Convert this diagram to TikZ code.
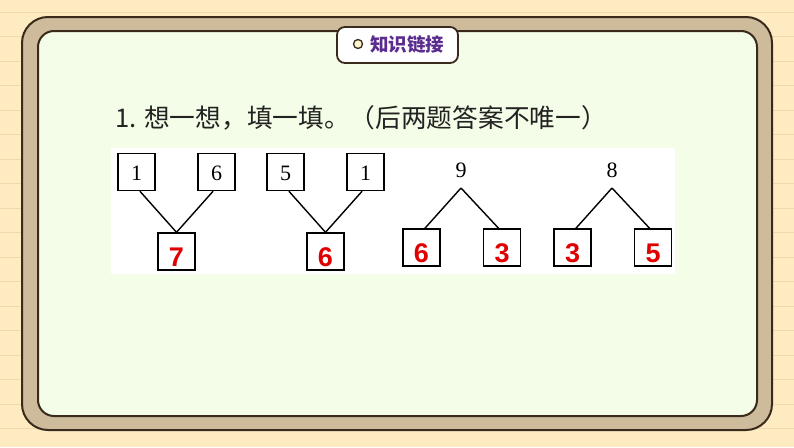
\documentclass[tikz,border=0pt]{standalone}
\usepackage{fontspec}
\newfontfamily\cjk{Noto Sans CJK SC}
\newfontfamily\numserif{Liberation Serif}
\newfontfamily\numsans{Liberation Sans}
\definecolor{paper}{HTML}{FEEBC2}
\definecolor{ruling}{HTML}{EFD9AC}
\definecolor{band}{HTML}{CDBB9B}
\definecolor{board}{HTML}{F4FDE7}
\definecolor{frameline}{HTML}{3A2A1C}
\definecolor{ringfill}{HTML}{FFF6CC}
\definecolor{tabpurple}{HTML}{5B2C8F}
\definecolor{titlegray}{HTML}{222222}
\definecolor{answerred}{HTML}{E00000}

\begin{document}
\begin{tikzpicture}[x=1pt,y=-1pt]
    		\newcommand{\xoff}{0}
    		\newcommand{\rad}{1.4pt} % width of boxes and legs

    		% styles of the number boxes
    		\tikzset{
    			given/.style={
    				draw,
    				line width=\rad,
    				minimum size=37pt,
    				inner sep=0pt,
    				text height=16pt,
    				text depth=0pt,
    				font=\numserif\fontsize{22}{22}\selectfont
    				},
    			answer/.style={
    				given,
    				text=answerred,
    				text height=30pt,
    				font=\numsans\bfseries\fontsize{27}{27}\selectfont
    				},
    			whole/.style={
    				inner xsep=0pt,
    				inner ysep=10pt,
    				text depth=0pt,
    				font=\numserif\fontsize{22}{22}\selectfont
    				},
    			leg/.style={line width=\rad}
    		}

    		% paper and ruling
    		\useasboundingbox (0,0) rectangle (794,447);
    		\fill[paper] (0,0) rectangle (794,447);
    		\foreach \k in {0,...,17}
    			\draw[ruling, line width=0.8pt] (0,12.3+24.5*\k) -- (794,12.3+24.5*\k);

    		% board
    		\filldraw[fill=band, draw=frameline, line width=2pt, rounded corners=26pt] (22,17) rectangle (772,430);
    		\filldraw[fill=board, draw=frameline, line width=2pt, rounded corners=16pt] (38,31) rectangle (757,416);

    		% tab
    		\filldraw[fill=white, draw=frameline, line width=1.8pt, rounded corners=8pt] (337,27) rectangle (458,63);
    		\filldraw[fill=ringfill, draw=frameline, line width=1.3pt] (358,44) circle (4.5pt);
    		\node[anchor=west, inner sep=0pt, text=tabpurple, font=\cjk\bfseries\fontsize{18.5}{19}\selectfont] (tabtext) at (370,44.5) {知识链接};

    		% task
    		\node[anchor=base west, inner sep=0pt, text=titlegray, font=\cjk\fontsize{25.7}{26}\selectfont] (task) at (115,127.5) {1. 想一想，填一填。（后两题答案不唯一）};
    		\fill[white] (111,148) rectangle (675,274);

    		% first tree
    		\renewcommand{\xoff}{0}
    		\node[given] (parta1) at (\xoff+136.5,172) {1};
    		\node[given] (partb1) at (\xoff+216.5,172) {6};
    		\node[answer] (sum1) at (\xoff+176.5,251.5) {7};
    		\draw[leg] (parta1.-80) -- (sum1.north);
    		\draw[leg] (partb1.-100) -- (sum1.north);

    		% second tree
    		\renewcommand{\xoff}{149}
    		\node[given] (parta2) at (\xoff+136.5,172) {5};
    		\node[given] (partb2) at (\xoff+216.5,172) {1};
    		\node[answer] (sum2) at (\xoff+176.5,251.5) {6};
    		\draw[leg] (parta2.-80) -- (sum2.north);
    		\draw[leg] (partb2.-100) -- (sum2.north);

    		% third tree
    		\renewcommand{\xoff}{0}
    		\node[whole, anchor=south] (whole3) at (\xoff+461,188) {9};
    		\node[answer] (left3) at (\xoff+421.5,247.5) {6};
    		\node[answer] (right3) at (\xoff+502,247.5) {3};
    		\draw[leg] (whole3.south) -- (left3.80);
    		\draw[leg] (whole3.south) -- (right3.100);

    		% fourth tree
    		\renewcommand{\xoff}{151}
    		\node[whole, anchor=south] (whole4) at (\xoff+461,188) {8};
    		\node[answer] (left4) at (\xoff+421.5,247.5) {3};
    		\node[answer] (right4) at (\xoff+502,247.5) {5};
    		\draw[leg] (whole4.south) -- (left4.80);
    		\draw[leg] (whole4.south) -- (right4.100);
		\end{tikzpicture}
\end{document}
